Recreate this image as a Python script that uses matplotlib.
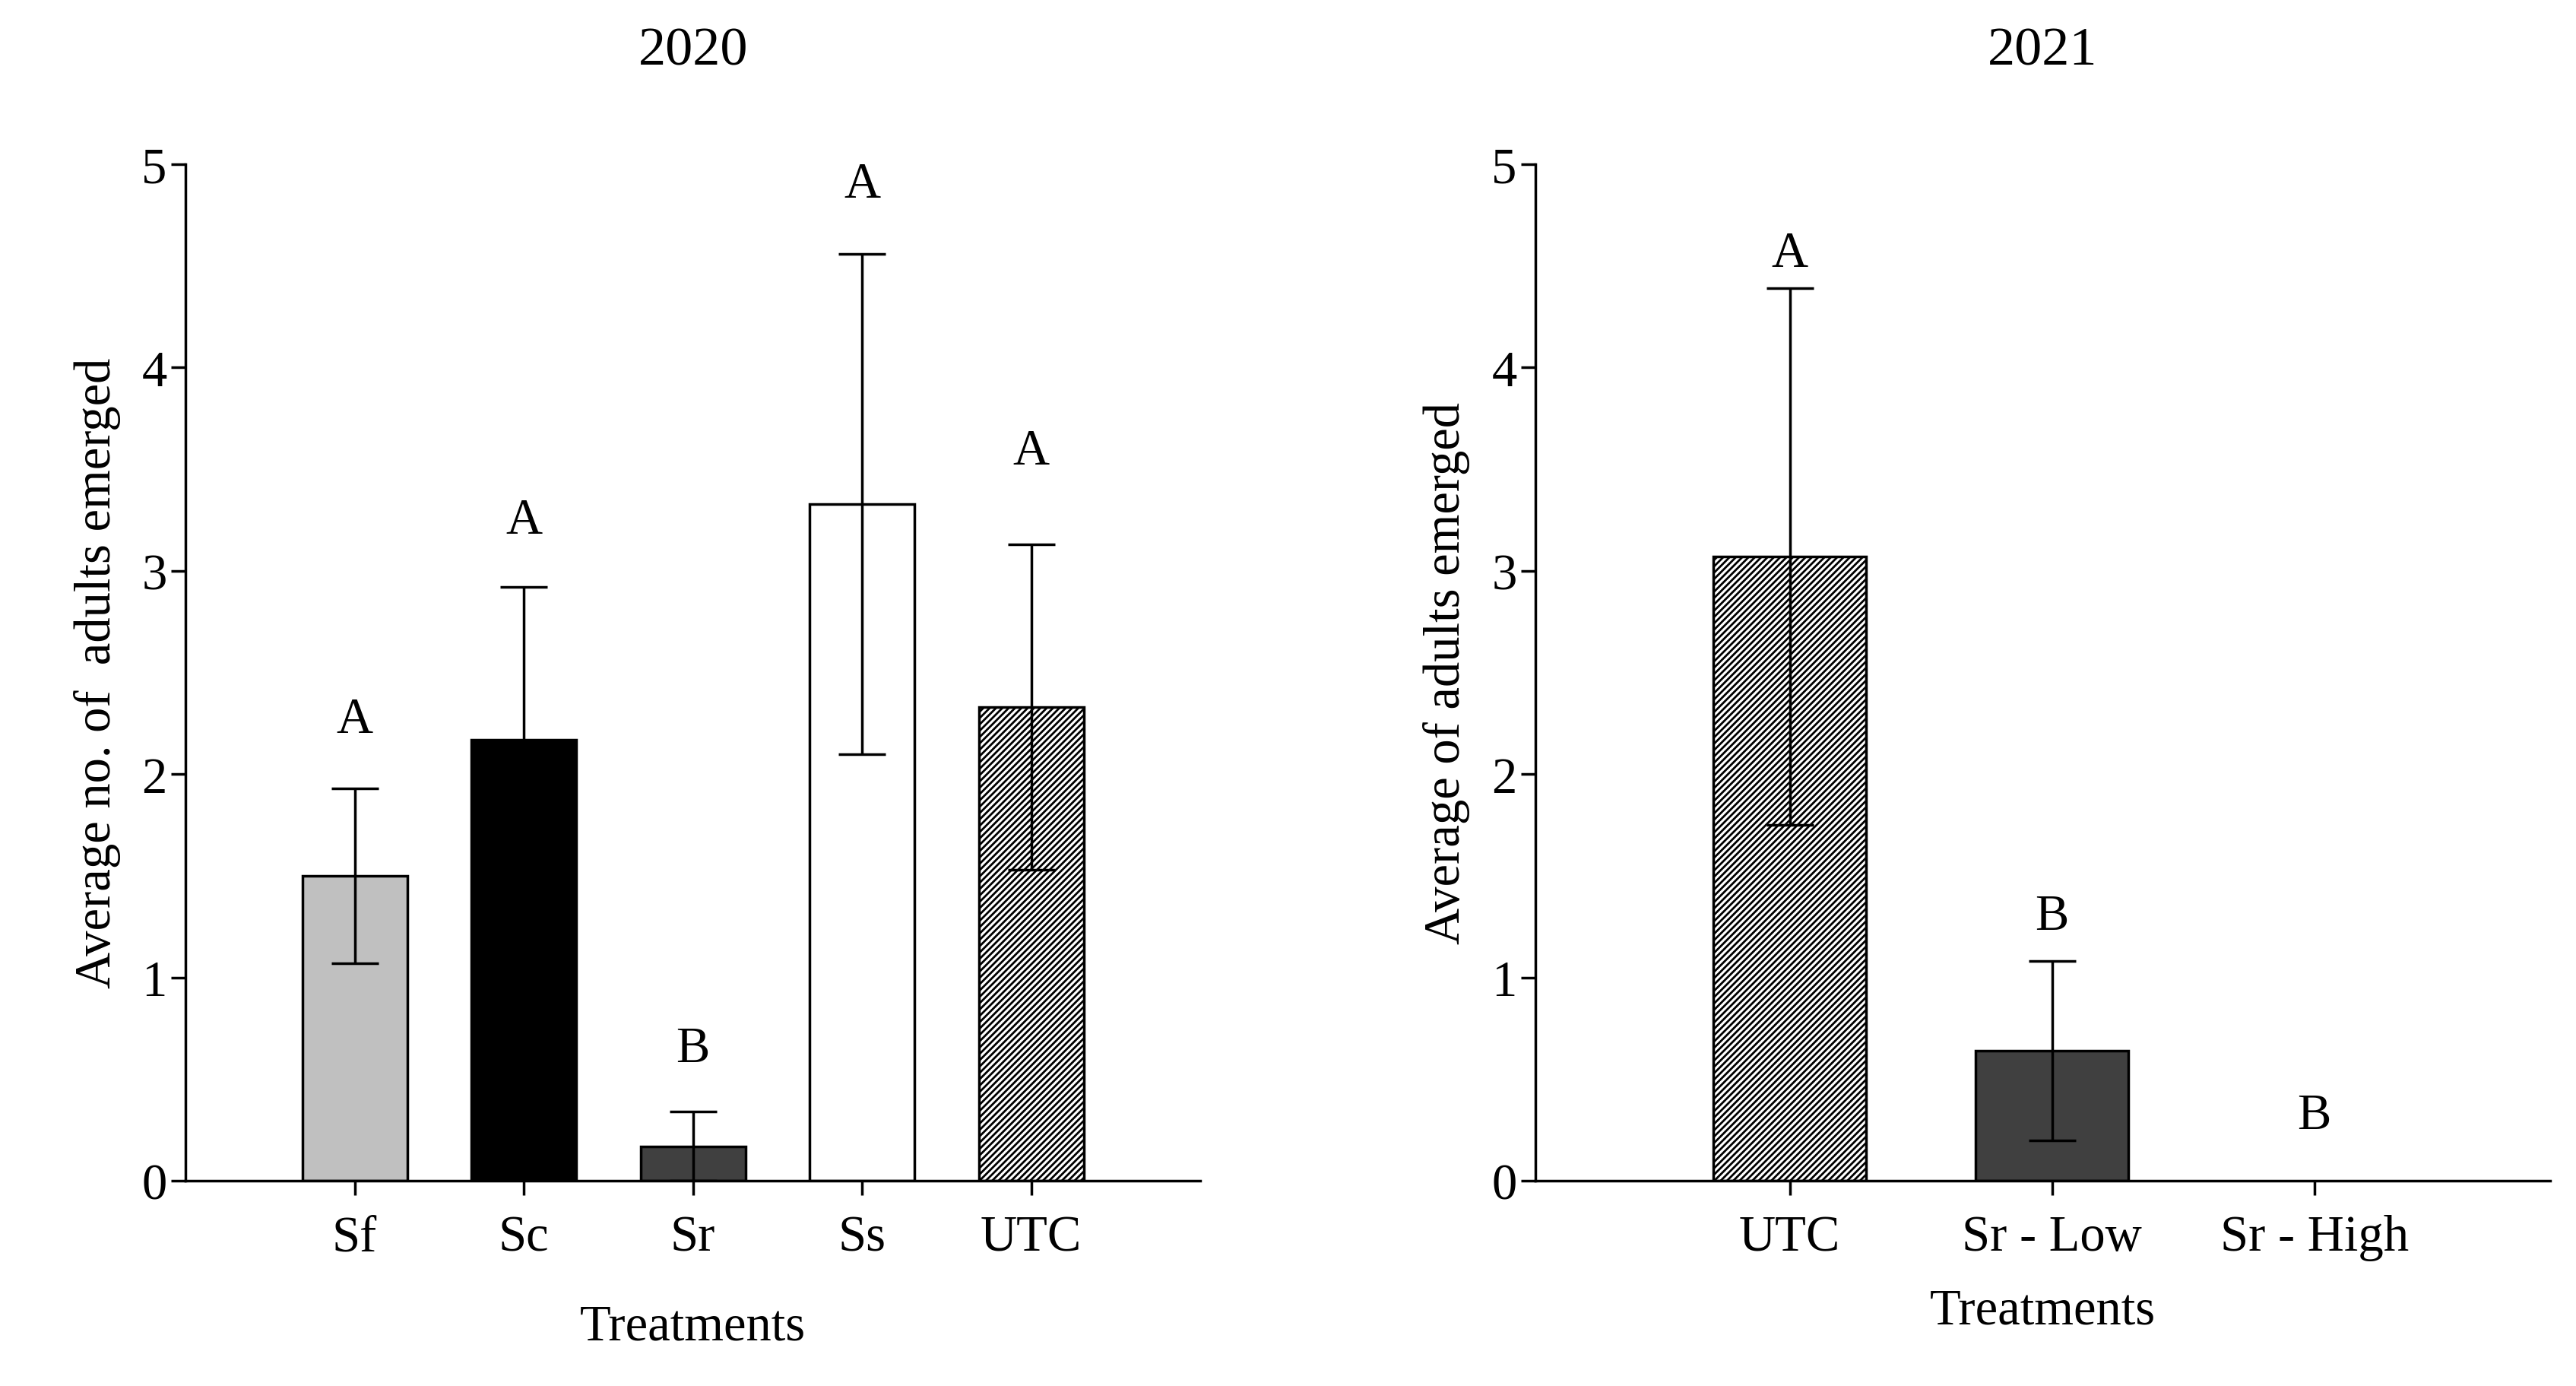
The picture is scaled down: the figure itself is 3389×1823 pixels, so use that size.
import matplotlib
matplotlib.use("Agg")
import matplotlib.pyplot as plt

plt.rcParams['font.family'] = ['Liberation Serif', 'DejaVu Serif']
plt.rcParams['hatch.linewidth'] = 2.0

cats20 = ["Sf", "Sc", "Sr", "Ss", "UTC"]
vals20 = [1.50, 2.17, 0.17, 3.33, 2.33]
errs20 = [0.43, 0.75, 0.17, 1.23, 0.80]
letters20 = ["A", "A", "B", "A", "A"]
lety20 = [2.27, 3.25, 0.65, 4.90, 3.59]
colors20 = ["#c0c0c0", "#000000", "#404040", "#ffffff", "#ffffff"]
hatch20 = [None, None, None, None, "////"]

cats21 = ["UTC", "Sr - Low", "Sr - High"]
vals21 = [3.07, 0.64, 0.0]
errs21 = [1.32, 0.44, 0.0]
letters21 = ["A", "B", "B"]
lety21 = [4.56, 1.30, 0.32]
colors21 = ["#ffffff", "#404040", "#ffffff"]
hatch21 = ["////", None, None]

fig = plt.figure(figsize=(33.89, 18.24), dpi=100)
ax1 = fig.add_axes([0.072, 0.148, 0.394, 0.733])
ax2 = fig.add_axes([0.596, 0.148, 0.394, 0.733])

def draw(ax, cats, vals, errs, letters, lety, colors, hatches, width, xlim, title, ylabel, xlabpad):
    x = list(range(len(cats)))
    for i in x:
        if vals[i] > 0:
            ax.bar(i, vals[i], width=width, color=colors[i], edgecolor='black',
                   linewidth=2.5, hatch=hatches[i], zorder=2)
            ax.errorbar(i, vals[i], yerr=errs[i], fmt='none', ecolor='black',
                        elinewidth=2.5, capsize=22, capthick=2.5, zorder=3)
        ax.text(i, lety[i], letters[i], ha='center', va='center', fontsize=48)
    ax.set_xlim(*xlim)
    ax.set_ylim(0, 5)
    ax.set_yticks([0, 1, 2, 3, 4, 5])
    ax.set_xticks(x)
    ax.set_xticklabels(cats)
    ax.tick_params(axis='both', labelsize=48, width=2.5, length=14, direction='out')
    ax.tick_params(axis='x', pad=18)
    ax.spines['top'].set_visible(False)
    ax.spines['right'].set_visible(False)
    for s in ['left', 'bottom']:
        ax.spines[s].set_linewidth(2.5)
    ax.set_title(title, fontsize=52, pad=95)
    ax.set_ylabel(ylabel, fontsize=48, labelpad=20)
    ax.set_xlabel("Treatments", fontsize=48, labelpad=xlabpad)

draw(ax1, cats20, vals20, errs20, letters20, lety20, colors20, hatch20, 0.62, (-1, 5),
     "2020", "Average no. of  adults emerged", 40)
draw(ax2, cats21, vals21, errs21, letters21, lety21, colors21, hatch21, 0.58, (-0.97, 2.9),
     "2021", "Average of adults emerged", 25)

fig.savefig("out.png", dpi=100)
